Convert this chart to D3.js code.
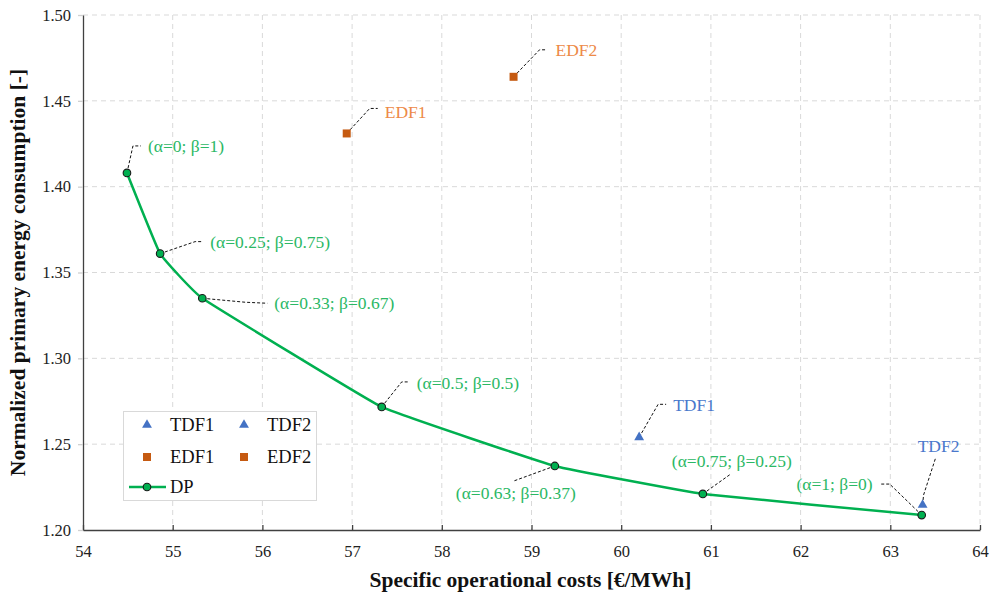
<!DOCTYPE html>
<html><head><meta charset="utf-8">
<script src="https://cdn.jsdelivr.net/npm/d3@7"></script>
<style>body{margin:0;background:#fff}svg{display:block;font-family:"Liberation Serif","DejaVu Serif",serif}</style>
</head><body><svg id="c" width="995" height="595"></svg>
<script>
// data
const dpCost = [54.49, 54.86, 55.33, 57.33, 59.26, 60.91, 63.35];
const dpEnergy = [1.408, 1.361, 1.335, 1.2717, 1.2373, 1.221, 1.2087];
const dpLabels = ["(α=0; β=1)", "(α=0.25; β=0.75)", "(α=0.33; β=0.67)", "(α=0.5; β=0.5)", "(α=0.63; β=0.37)", "(α=0.75; β=0.25)", "(α=1; β=0)"];
const tdfNames = ["TDF1", "TDF2"];
const tdfCost = [60.20, 63.36];
const tdfEnergy = [1.254, 1.2146];
const edfNames = ["EDF1", "EDF2"];
const edfCost = [56.94, 58.80];
const edfEnergy = [1.431, 1.464];
const xTicks = [54,55,56,57,58,59,60,61,62,63,64];
const yTicks = [1.20,1.25,1.30,1.35,1.40,1.45,1.50];

// label layout (pixel offsets relative to point): leader path points and text anchor
const dpLabelLayout = [
  {path:[[6,-27],[14,-27]], tx:21, ty:-27, anchor:"start"},
  {path:[[35,-12],[42,-12]], tx:50, ty:-12, anchor:"start"},
  {path:[[43,4],[65,5]], tx:72, ty:5, anchor:"start"},
  {path:[[20,-25],[28,-25]], tx:35, ty:-24, anchor:"start"},
  {path:[[-41,15]], tx:-39, ty:27, anchor:"middle"},
  {path:[[28,-20]], tx:29, ty:-33, anchor:"middle"},
  {path:[[-32,-31],[-42,-31]], tx:-49, ty:-31, anchor:"end"}
];
const tdfLabelLayout = [
  {path:[[19,-33],[27,-33]], tx:34, ty:-32, anchor:"start"},
  {path:[[1,-10],[13,-47]], tx:16, ty:-59, anchor:"middle"}
];
const edfLabelLayout = [
  {path:[[23,-25],[31,-25]], tx:38, ty:-22, anchor:"start"},
  {path:[[26,-27],[33,-27]], tx:42, ty:-27, anchor:"start"}
];

const svg = d3.select("#c");
const m = {l:83, r:15, t:15, b:65};
const W = 995, H = 595;
const x = d3.scaleLinear().domain([54,64]).range([m.l, W-m.r]);
const y = d3.scaleLinear().domain([1.20,1.50]).range([H-m.b, m.t]);

const green = "#00B050", greenTxt = "#2BB865", blue = "#4472C4", blueTxt = "#4A78CC", orange = "#C55A11", orangeTxt = "#ED8A48";

// grid
const g = svg.append("g");
g.selectAll(".vg").data(xTicks.slice(1)).enter().append("line")
  .attr("x1", d=>x(d)).attr("x2", d=>x(d)).attr("y1", y(1.5)).attr("y2", y(1.2))
  .attr("stroke","#d9d9d9").attr("stroke-dasharray","5,4").attr("stroke-width",1);
g.selectAll(".hg").data(yTicks.slice(1)).enter().append("line")
  .attr("x1", x(54)).attr("x2", x(64)).attr("y1", d=>y(d)).attr("y2", d=>y(d))
  .attr("stroke","#d9d9d9").attr("stroke-dasharray","5,4").attr("stroke-width",1);

// axes
const xAxis = d3.axisBottom(x).tickValues(xTicks).tickFormat(d3.format("d")).tickSizeInner(-5).tickSizeOuter(0).tickPadding(15);
const yAxis = d3.axisLeft(y).tickValues(yTicks).tickFormat(d3.format(".2f")).tickSizeInner(5).tickSizeOuter(0).tickPadding(7);
const gx = svg.append("g").attr("transform",`translate(0,${y(1.2)})`).call(xAxis);
const gy = svg.append("g").attr("transform",`translate(${x(54)},0)`).call(yAxis);
[gx,gy].forEach(a=>{
  a.select(".domain").attr("stroke","#404040").attr("stroke-width",1.3);
  a.selectAll(".tick line").attr("stroke","#404040").attr("stroke-width",1.3);
  a.selectAll("text").attr("font-size",16.5).attr("fill","#222").attr("font-family","Liberation Serif, serif");
});
gy.selectAll(".tick line").attr("stroke","#d0d0d0");

// axis titles
svg.append("text").attr("x", (x(54)+x(64))/2 - 1).attr("y", 587).attr("text-anchor","middle")
  .attr("font-size",21.5).attr("font-weight","bold").attr("fill","#111").text("Specific operational costs [€/MWh]");
svg.append("text").attr("transform",`translate(25,${(y(1.2)+y(1.5))/2}) rotate(-90)`).attr("text-anchor","middle")
  .attr("font-size",21.5).attr("font-weight","bold").attr("fill","#111").text("Normalized primary energy consumption [-]");

// leader helper
function leaders(costs, energies, layout, labels, color){
  costs.forEach((c,i)=>{
    const px = x(c), py = y(energies[i]);
    const L = layout[i];
    const pts = [[px,py]].concat(L.path.map(p=>[px+p[0], py+p[1]]));
    svg.append("path").attr("d", d3.line()(pts)).attr("fill","none")
      .attr("stroke","#111").attr("stroke-width",1).attr("stroke-dasharray","3,2");
    svg.append("text").attr("x", px+L.tx).attr("y", py+L.ty).attr("dy","0.35em")
      .attr("text-anchor", L.anchor).attr("font-size",17.5).attr("fill",color).text(labels[i]);
  });
}

// DP line
const dp = dpCost.map((c,i)=>[c, dpEnergy[i]]);
svg.append("path").attr("d", d3.line().x(d=>x(d[0])).y(d=>y(d[1])).curve(d3.curveCardinal.tension(0.75))(dp))
  .attr("fill","none").attr("stroke",green).attr("stroke-width",2.5);

leaders(dpCost, dpEnergy, dpLabelLayout, dpLabels, greenTxt);
leaders(tdfCost, tdfEnergy, tdfLabelLayout, tdfNames, blueTxt);
leaders(edfCost, edfEnergy, edfLabelLayout, edfNames, orangeTxt);

svg.selectAll(".dpm").data(dp).enter().append("circle")
  .attr("cx", d=>x(d[0])).attr("cy", d=>y(d[1])).attr("r",3.8)
  .attr("fill",green).attr("stroke","#1a1a1a").attr("stroke-width",1.1);

const tri = d3.symbol().type(d3.symbolTriangle).size(42);
tdfCost.forEach((c,i)=>{
  svg.append("path").attr("d", tri()).attr("transform",`translate(${x(c)},${y(tdfEnergy[i])})`).attr("fill",blue);
});
edfCost.forEach((c,i)=>{
  svg.append("rect").attr("x", x(c)-4).attr("y", y(edfEnergy[i])-4).attr("width",8).attr("height",8).attr("fill",orange);
});

// legend
const lg = svg.append("g");
lg.append("rect").attr("x",123.5).attr("y",411.5).attr("width",193).attr("height",89)
  .attr("fill","#fff").attr("stroke","#d9d9d9").attr("stroke-width",1);
const legItems = [
  {t:tdfNames[0], k:"tri", x:147, y:425},{t:tdfNames[1], k:"tri", x:244, y:425},
  {t:edfNames[0], k:"sq", x:147, y:457},{t:edfNames[1], k:"sq", x:244, y:457},
  {t:"DP", k:"line", x:147, y:487}
];
legItems.forEach(it=>{
  if(it.k==="tri") lg.append("path").attr("d",tri()).attr("transform",`translate(${it.x},${it.y})`).attr("fill",blue);
  if(it.k==="sq") lg.append("rect").attr("x",it.x-4).attr("y",it.y-4).attr("width",8).attr("height",8).attr("fill",orange);
  if(it.k==="line"){
    lg.append("line").attr("x1",it.x-18).attr("x2",it.x+19).attr("y1",it.y).attr("y2",it.y).attr("stroke",green).attr("stroke-width",2.5);
    lg.append("circle").attr("cx",it.x).attr("cy",it.y).attr("r",3.8).attr("fill",green).attr("stroke","#1a1a1a").attr("stroke-width",1.1);
  }
  lg.append("text").attr("x",it.x+23).attr("y",it.y).attr("dy","0.35em").attr("font-size",18.5).attr("fill","#111").text(it.t);
});
</script></body></html>
